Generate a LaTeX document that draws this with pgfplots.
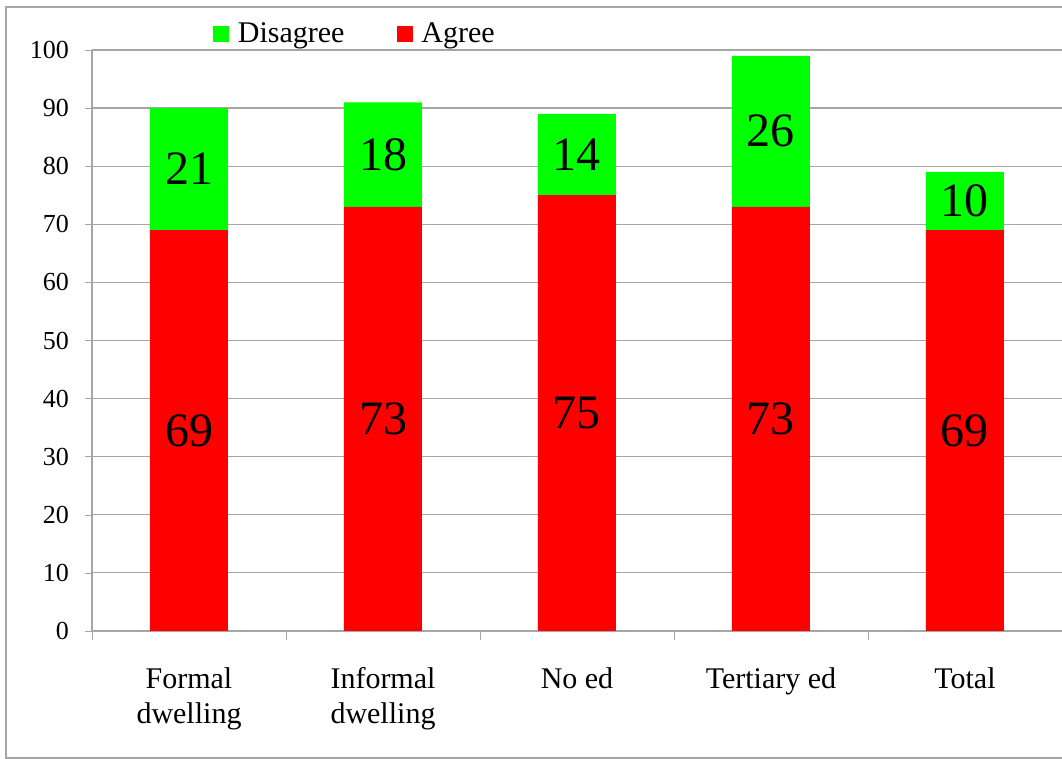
\documentclass[border=0pt]{standalone}
\usepackage{fontspec}
\setmainfont{Liberation Serif}
\usepackage{pgfplots}
\pgfplotsset{compat=1.18}
\definecolor{agree}{RGB}{255,0,0}
\definecolor{disagree}{RGB}{0,255,0}
\definecolor{gridgray}{RGB}{166,166,166}
\begin{document}
\begin{tikzpicture}[x=1pt,y=1pt]
  \useasboundingbox (0,0) rectangle (531,379.5);
  \begin{scope}
    \clip (0,0) rectangle (531,379.5);
    \draw[gridgray, line width=0.9pt] (3,0.5) rectangle (545,376);
  \end{scope}
  %
  % Bars
  %
  \begin{axis}[%
    at={(46pt,64pt)}, anchor=south west,%
    scale only axis, width=485pt, height=290.5pt,%
    ybar stacked, bar width=39pt,%
    xmin=-0.5, xmax=4.5, ymin=0, ymax=100,%
    xtick={0,...,4},%
    xticklabels={\strut Formal\\dwelling, \strut Informal\\dwelling, \strut No ed, \strut Tertiary ed, \strut Total},%
    xticklabel style={align=center, font=\fontsize{15}{17.5}\selectfont, anchor=north, yshift=-9.5pt},%
    major x tick style={draw=none},%
    minor xtick={-0.5,0.5,...,4.5},%
    minor x tick style={gridgray},%
    minor tick length=4.5pt,%
    major tick length=3.5pt,%
    xtick align=outside, ytick align=outside,%
    ytick={0,10,...,100},%
    yticklabel style={font=\fontsize{13}{15}\selectfont, /pgf/number format/assume math mode=true, xshift=-4.5pt},%
    ymajorgrids, grid style={gridgray, line width=0.6pt},%
    axis x line*=bottom, axis y line*=left,%
    axis line style={gridgray, line width=0.7pt},%
    y tick style={gridgray},%
    legend style={at={(0.272,1.0275)}, anchor=center, draw=none, fill=none,%
      legend columns=2, font=\fontsize{15}{17}\selectfont,%
      /tikz/every odd column/.append style={column sep=2.5pt},%
      /tikz/every even column/.append style={column sep=24pt}},%
    legend image code/.code={\fill[#1] (0pt,-4pt) rectangle (8pt,4pt);},%
    reverse legend,%
    ]
    \addplot[fill=agree, draw=none] coordinates {(0,69) (1,73) (2,75) (3,73) (4,69)};
    \addlegendentry{Agree}
    \addplot[fill=disagree, draw=none] coordinates {(0,21) (1,18) (2,14) (3,26) (4,10)};
    \addlegendentry{Disagree}
  \end{axis}
  %
  % Value labels, centred in each segment
  %
  \begin{axis}[%
    at={(46pt,64pt)}, anchor=south west,%
    scale only axis, width=485pt, height=290.5pt,%
    xmin=-0.5, xmax=4.5, ymin=0, ymax=100,%
    hide axis,%
    ]
    \addplot[draw=none, mark=none, point meta=explicit symbolic, nodes near coords,%
      every node near coord/.style={anchor=center, font=\fontsize{24}{28}\selectfont, text=black}]
      coordinates {(0,34.5)[69] (1,36.5)[73] (2,37.5)[75] (3,36.5)[73] (4,34.5)[69]
                   (0,79.5)[21] (1,82)[18] (2,82)[14] (3,86)[26] (4,74)[10]};
  \end{axis}
\end{tikzpicture}
\end{document}
